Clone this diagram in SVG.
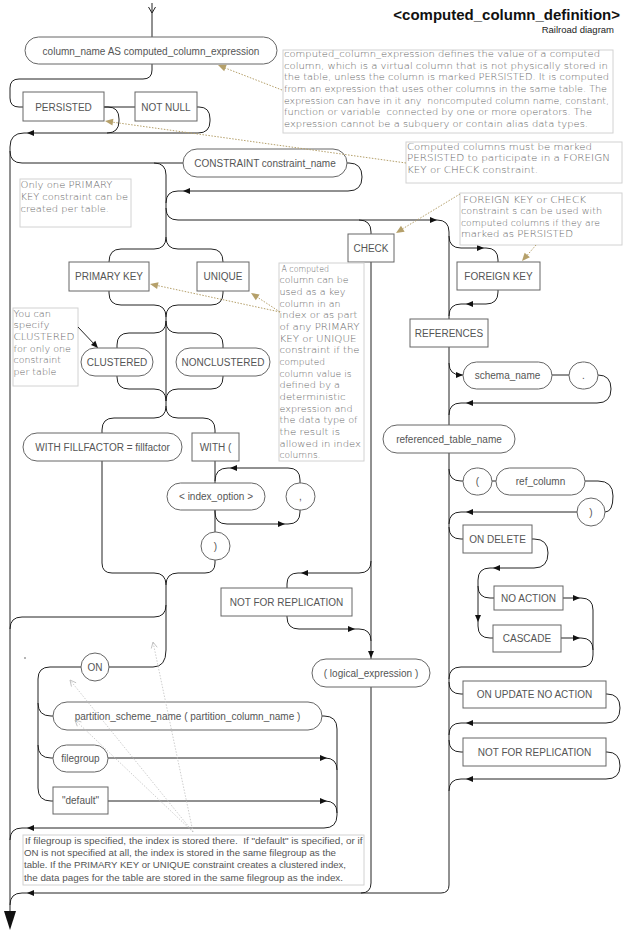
<svg xmlns="http://www.w3.org/2000/svg" width="626" height="933" viewBox="0 0 626 933">
<defs>
<style>
.c{fill:none;stroke:#222;stroke-width:1}
.n{fill:#fff;stroke:#666;stroke-width:1}
.t{font-family:"Liberation Sans",Arial,sans-serif;font-size:10px;fill:#555;text-anchor:middle}
.nb{fill:#fff;stroke:#d2d2d2;stroke-width:1}
.nt{font-family:"DejaVu Sans",sans-serif;font-size:9.5px;fill:#666;font-weight:200}
.ft{font-family:"Liberation Sans",Arial,sans-serif;font-size:9px;fill:#555}
.an{fill:none;stroke:#b5a06a;stroke-width:1;stroke-dasharray:1.5 1.5}
.ga{fill:none;stroke:#c2c2c2;stroke-width:0.8;stroke-dasharray:1.5 1.5}
</style>
<path id="ah" d="M0,0 L-7,-3 L-7,3 Z" fill="#111"/>
<path id="tah" d="M0,0 L-8,-3.5 L-8,3.5 Z" fill="#b5a06a"/>
<path id="gah" d="M-6,-3 L0,0 L-6,3" fill="none" stroke="#b8b8b8" stroke-width="0.8"/>
</defs>
<rect width="626" height="933" fill="#fff"/>

<g id="title">
<text x="620" y="20" font-family="Liberation Sans, Arial, sans-serif" font-size="15" font-weight="bold" fill="#111" text-anchor="end">&lt;computed_column_definition&gt;</text>
<text x="614" y="33" font-family="Liberation Sans, Arial, sans-serif" font-size="9.5" fill="#222" text-anchor="end">Railroad diagram</text>
</g>

<g id="connectors">
<line class="c" x1="152" y1="3" x2="152" y2="37"/>
<polyline class="c" points="148.5,7 152,13 155.5,7"/>
<path class="c" d="M152,64 V70 Q152,79 143,79 H19 Q10,79 10,88 V98 Q10,107 19,107 H23"/>
<path class="c" d="M104,107 H135"/>
<path class="c" d="M104,107 H108 Q119,107 119,119 V121 Q119,133 107,133"/>
<path class="c" d="M197,107 H199 Q210,107 210,119 V121 Q210,133 198,133 H24 Q10,133 10,147 V911"/>
<path class="c" d="M10,151 Q10,163 22,163 H183"/>
<path class="c" d="M154,163 Q166,163 166,175 V237"/>
<path class="c" d="M347,163 H349 Q362,163 362,177 Q362,191 348,191 H178 Q166,191 166,203"/>
<path class="c" d="M166,208 Q166,220 178,220 H437 Q449,220 449,232 V885 Q449,893 441,893 H22 Q10,893 10,905"/>
<path class="c" d="M359,220 Q371,220 371,232 V234"/>
<path class="c" d="M371,262 V883 Q371,893 361,893"/>
<!-- PK / UNIQUE -->
<path class="c" d="M166,237 Q166,249 154,249 H121 Q109,249 109,262"/>
<path class="c" d="M166,237 Q166,249 178,249 H211 Q223,249 223,262"/>
<path class="c" d="M109,291 V293 Q109,305 121,305 H154 Q166,305 166,317"/>
<path class="c" d="M223,291 V293 Q223,305 211,305 H178 Q166,305 166,317"/>
<path class="c" d="M166,317 V406"/>
<path class="c" d="M166,321 Q166,333 154,333 H129 Q117,333 117,345 V348"/>
<path class="c" d="M166,321 Q166,333 178,333 H211 Q223,333 223,345 V348"/>
<path class="c" d="M117,376 V377 Q117,389 129,389 H154 Q166,389 166,401"/>
<path class="c" d="M223,376 V377 Q223,389 211,389 H178 Q166,389 166,401"/>
<path class="c" d="M166,406 Q166,418 154,418 H114 Q102,418 102,430 V433"/>
<path class="c" d="M166,406 Q166,418 178,418 H203 Q215,418 215,430 V433"/>
<path class="c" d="M102,461 V563 Q102,573 112,573 H154 Q166,573 166,585"/>
<path class="c" d="M215,461 V483 M215,510 V532"/>
<path class="c" d="M300,483 V480 Q300,468 288,468 H228 Q215,468 215,481"/>
<path class="c" d="M215,510 V512 Q215,524 227,524 H288 Q300,524 300,512 V510"/>
<path class="c" d="M215,560 V563 Q215,573 205,573 H178 Q166,573 166,585"/>
<path class="c" d="M166,585 V650"/>
<path class="c" d="M166,605 Q166,617 154,617 H22 Q10,617 10,629"/>
<!-- ON / filegroup -->
<path class="c" d="M166,650 Q166,667 153,667 H109"/>
<path class="c" d="M81,667 H50 Q38,667 38,679 V788 Q38,801 51,801 H53"/>
<path class="c" d="M38,703 Q38,716 51,716 H53"/>
<path class="c" d="M38,745 Q38,758 51,758 H53"/>
<path class="c" d="M322,716 H324 Q337,716 337,729 V815 Q337,828 324,828 H22 Q10,828 10,840"/>
<path class="c" d="M108,758 H325 Q337,758 337,770"/>
<path class="c" d="M108,801 H325 Q337,801 337,813"/>
<!-- CHECK -->
<path class="c" d="M371,561 Q371,573 359,573 H298 Q287,573 287,584 V588"/>
<path class="c" d="M287,616 V617 Q287,629 299,629 H359 Q371,629 371,641"/>
<!-- FOREIGN KEY -->
<path class="c" d="M449,236 Q449,248 461,248 H486 Q498,248 498,260 V262"/>
<path class="c" d="M498,290 V292 Q498,304 486,304 H461 Q449,304 449,316"/>
<path class="c" d="M449,363 Q449,375 461,375 H463"/>
<path class="c" d="M552,375 H569"/>
<path class="c" d="M598,375 Q611,375 611,389 Q611,403 597,403 H461 Q449,403 449,415"/>
<path class="c" d="M449,469 Q449,481 461,481 H463 M492,481 H496"/>
<path class="c" d="M585,481 H598 Q613,481 613,496 Q613,512 605,512"/>
<path class="c" d="M577,512 H461 Q449,512 449,524"/>
<path class="c" d="M449,527 Q449,539 461,539 H463"/>
<path class="c" d="M532,539 H534 Q548,539 548,553 Q548,568 534,568 H490 Q478,568 478,580 V626 Q478,638 490,638 H493"/>
<path class="c" d="M478,586 Q478,598 490,598 H494"/>
<path class="c" d="M563,598 H581 Q593,598 593,610 V655 Q593,667 581,667 H461 Q449,667 449,679"/>
<path class="c" d="M561,638 H581 Q593,638 593,650"/>
<path class="c" d="M449,682 Q449,694 461,694 H463"/>
<path class="c" d="M606,694 H607 Q620,694 620,708 Q620,723 606,723 H461 Q449,723 449,735"/>
<path class="c" d="M449,740 Q449,752 461,752 H463"/>
<path class="c" d="M606,752 H607 Q620,752 620,766 Q620,779 606,779 H461 Q449,779 449,791"/>
<!-- arrowheads -->
<use href="#ah" transform="translate(27,133) rotate(180)"/>
<use href="#ah" transform="translate(183,191) rotate(180)"/>
<use href="#ah" transform="translate(437,220)"/>
<use href="#ah" transform="translate(484,248)"/>
<use href="#ah" transform="translate(466,304) rotate(180)"/>
<use href="#ah" transform="translate(463,375)"/>
<use href="#ah" transform="translate(466,403) rotate(180)"/>
<use href="#ah" transform="translate(466,512) rotate(180)"/>
<use href="#ah" transform="translate(493,568) rotate(180)"/>
<use href="#ah" transform="translate(478,622) rotate(90)"/>
<use href="#ah" transform="translate(580,598)"/>
<use href="#ah" transform="translate(580,638)"/>
<use href="#ah" transform="translate(466,723) rotate(180)"/>
<use href="#ah" transform="translate(466,779) rotate(180)"/>
<use href="#ah" transform="translate(301,573) rotate(180)"/>
<use href="#ah" transform="translate(355,629)"/>
<use href="#ah" transform="translate(371,658) rotate(90)"/>
<use href="#ah" transform="translate(230,468) rotate(180)"/>
<use href="#ah" transform="translate(285,524)"/>
<use href="#ah" transform="translate(327,758)"/>
<use href="#ah" transform="translate(327,801)"/>
<use href="#ah" transform="translate(27,828) rotate(180)"/>
<use href="#ah" transform="translate(27,893) rotate(180)"/>
<polygon points="4,911 16,911 10,930" fill="#111"/>
<circle cx="25" cy="658" r="0.7" fill="#333"/>
</g>

<g id="n-column" ><rect class="n" x="25" y="37" width="252" height="27" rx="13.5"/><text class="t" x="151" y="54.5">column_name AS computed_column_expression</text></g>
<g id="n-persisted"><rect class="n" x="23" y="92" width="81" height="29"/><text class="t" x="63.5" y="110.5">PERSISTED</text></g>
<g id="n-notnull"><rect class="n" x="135" y="92" width="62" height="29"/><text class="t" x="166" y="110.5">NOT NULL</text></g>
<g id="n-constraint"><rect class="n" x="183" y="149" width="164" height="28" rx="14"/><text class="t" x="265" y="166.5">CONSTRAINT constraint_name</text></g>
<g id="n-pk"><rect class="n" x="69" y="262" width="80" height="29"/><text class="t" x="109" y="280">PRIMARY KEY</text></g>
<g id="n-unique"><rect class="n" x="197" y="262" width="52" height="29"/><text class="t" x="223" y="280">UNIQUE</text></g>
<g id="n-clustered"><rect class="n" x="81" y="348" width="72" height="28" rx="14"/><text class="t" x="117" y="365.5">CLUSTERED</text></g>
<g id="n-nonclustered"><rect class="n" x="176" y="348" width="94" height="28" rx="14"/><text class="t" x="223" y="365.5">NONCLUSTERED</text></g>
<g id="n-fillfactor"><rect class="n" x="23" y="433" width="159" height="28" rx="14"/><text class="t" x="102.5" y="450.5">WITH FILLFACTOR = fillfactor</text></g>
<g id="n-with"><rect class="n" x="192" y="433" width="47" height="28"/><text class="t" x="215.5" y="450.5">WITH (</text></g>
<g id="n-indexopt"><rect class="n" x="167" y="483" width="98" height="27" rx="13.5"/><text class="t" x="216" y="500">&lt; index_option &gt;</text></g>
<g id="n-comma"><rect class="n" x="286" y="483" width="29" height="27" rx="13.5"/><text class="t" x="300.5" y="500">,</text></g>
<g id="n-rparen1"><rect class="n" x="201" y="532" width="29" height="28" rx="14"/><text class="t" x="215.5" y="549.5">)</text></g>
<g id="n-check"><rect class="n" x="348" y="234" width="46" height="28"/><text class="t" x="371" y="251.5">CHECK</text></g>
<g id="n-nfr1"><rect class="n" x="221" y="588" width="131" height="28"/><text class="t" x="286.5" y="605.5">NOT FOR REPLICATION</text></g>
<g id="n-logical"><rect class="n" x="312" y="659" width="118" height="28" rx="14"/><text class="t" x="371" y="676.5">( logical_expression )</text></g>
<g id="n-on"><rect class="n" x="81" y="653" width="28" height="28" rx="14"/><text class="t" x="95" y="670.5">ON</text></g>
<g id="n-partition"><rect class="n" x="53" y="702" width="269" height="28" rx="14"/><text class="t" x="187.5" y="719.5">partition_scheme_name ( partition_column_name )</text></g>
<g id="n-filegroup"><rect class="n" x="53" y="745" width="55" height="27" rx="13.5"/><text class="t" x="80.5" y="762">filegroup</text></g>
<g id="n-default"><rect class="n" x="53" y="787" width="55" height="27"/><text class="t" x="80.5" y="804">"default"</text></g>
<g id="n-fk"><rect class="n" x="457" y="262" width="83" height="28"/><text class="t" x="498.5" y="279.5">FOREIGN KEY</text></g>
<g id="n-references"><rect class="n" x="410" y="319" width="78" height="28"/><text class="t" x="449" y="336.5">REFERENCES</text></g>
<g id="n-schema"><rect class="n" x="463" y="362" width="89" height="27" rx="13.5"/><text class="t" x="507.5" y="379">schema_name</text></g>
<g id="n-dot"><rect class="n" x="569" y="362" width="29" height="27" rx="13.5"/><text class="t" x="583.5" y="379">.</text></g>
<g id="n-reftable"><rect class="n" x="383" y="425" width="132" height="28" rx="14"/><text class="t" x="449" y="442.5">referenced_table_name</text></g>
<g id="n-lparen"><rect class="n" x="463" y="468" width="29" height="27" rx="13.5"/><text class="t" x="477.5" y="485">(</text></g>
<g id="n-refcol"><rect class="n" x="496" y="468" width="89" height="27" rx="13.5"/><text class="t" x="540.5" y="485">ref_column</text></g>
<g id="n-rparen2"><rect class="n" x="577" y="498" width="28" height="28" rx="14"/><text class="t" x="591" y="515.5">)</text></g>
<g id="n-ondelete"><rect class="n" x="463" y="525" width="69" height="28"/><text class="t" x="497.5" y="542.5">ON DELETE</text></g>
<g id="n-noaction"><rect class="n" x="494" y="586" width="69" height="24"/><text class="t" x="528.5" y="601.5">NO ACTION</text></g>
<g id="n-cascade"><rect class="n" x="493" y="625" width="68" height="27"/><text class="t" x="527" y="642">CASCADE</text></g>
<g id="n-onupdate"><rect class="n" x="463" y="681" width="143" height="27"/><text class="t" x="534.5" y="698">ON UPDATE NO ACTION</text></g>
<g id="n-nfr2"><rect class="n" x="463" y="738" width="143" height="28"/><text class="t" x="534.5" y="755.5">NOT FOR REPLICATION</text></g>

<g id="note-expr">
<rect class="nb" x="283" y="50" width="330" height="83"/>
<text class="nt" xml:space="preserve"><tspan x="284" y="57" textLength="316" lengthAdjust="spacingAndGlyphs">computed_column_expression defines the value of a computed</tspan><tspan x="284" y="68.7" textLength="324" lengthAdjust="spacingAndGlyphs">column, which is a virtual column that is not physically stored in</tspan><tspan x="284" y="80.3" textLength="325" lengthAdjust="spacingAndGlyphs">the table, unless the column is marked PERSISTED. It is computed</tspan><tspan x="284" y="92" textLength="323" lengthAdjust="spacingAndGlyphs">from an expression that uses other columns in the same table. The</tspan><tspan x="284" y="103.7" textLength="325" lengthAdjust="spacingAndGlyphs">expression can have in it any  noncomputed column name, constant,</tspan><tspan x="284" y="115.3" textLength="308" lengthAdjust="spacingAndGlyphs">function or variable  connected by one or more operators. The</tspan><tspan x="284" y="127" textLength="304" lengthAdjust="spacingAndGlyphs">expression cannot be a subquery or contain alias data types.</tspan></text>
</g>
<g id="note-persisted">
<rect class="nb" x="406" y="142" width="216" height="41"/>
<text class="nt"><tspan x="407" y="149.5" textLength="185" lengthAdjust="spacingAndGlyphs">Computed columns must be marked</tspan><tspan x="407" y="161" textLength="203" lengthAdjust="spacingAndGlyphs">PERSISTED to participate in a FOREIGN</tspan><tspan x="407" y="172.5" textLength="131" lengthAdjust="spacingAndGlyphs">KEY or CHECK constraint.</tspan></text>
</g>
<g id="note-fk">
<rect class="nb" x="460" y="193" width="162" height="52"/>
<text class="nt"><tspan x="463" y="203" textLength="123" lengthAdjust="spacingAndGlyphs">FOREIGN KEY or CHECK</tspan><tspan x="461" y="214.3" textLength="141" lengthAdjust="spacingAndGlyphs">constraint s can be used with</tspan><tspan x="461" y="225.6" textLength="139" lengthAdjust="spacingAndGlyphs">computed columns if they are</tspan><tspan x="461" y="237" textLength="112" lengthAdjust="spacingAndGlyphs">marked as PERSISTED</tspan></text>
</g>
<g id="note-pk">
<rect class="nb" x="20" y="179" width="111" height="48"/>
<text class="nt"><tspan x="20.5" y="187.5" textLength="92" lengthAdjust="spacingAndGlyphs">Only one PRIMARY</tspan><tspan x="20.5" y="200" textLength="107.5" lengthAdjust="spacingAndGlyphs">KEY constraint can be</tspan><tspan x="20.5" y="212" textLength="88.5" lengthAdjust="spacingAndGlyphs">created per table.</tspan></text>
</g>
<g id="note-clustered">
<rect class="nb" x="13" y="308" width="65" height="78"/>
<text class="nt"><tspan x="13.5" y="316.5" textLength="37.5" lengthAdjust="spacingAndGlyphs">You can</tspan><tspan x="13.5" y="328" textLength="36" lengthAdjust="spacingAndGlyphs">specify</tspan><tspan x="13.5" y="339.8" textLength="61" lengthAdjust="spacingAndGlyphs">CLUSTERED</tspan><tspan x="13.5" y="351.5" textLength="57.5" lengthAdjust="spacingAndGlyphs">for only one</tspan><tspan x="13.5" y="363" textLength="47.5" lengthAdjust="spacingAndGlyphs">constraint</tspan><tspan x="13.5" y="374.7" textLength="43" lengthAdjust="spacingAndGlyphs">per table</tspan></text>
</g>
<g id="note-key">
<rect class="nb" x="279" y="263" width="85" height="198"/>
<text class="nt"><tspan x="281.5" y="271.5" textLength="47.5" lengthAdjust="spacingAndGlyphs">A computed</tspan><tspan x="279.5" y="283.2" textLength="69" lengthAdjust="spacingAndGlyphs">column can be</tspan><tspan x="279.5" y="294.8" textLength="66" lengthAdjust="spacingAndGlyphs">used as a key</tspan><tspan x="279.5" y="306.5" textLength="61" lengthAdjust="spacingAndGlyphs">column in an</tspan><tspan x="279.5" y="318.2" textLength="78" lengthAdjust="spacingAndGlyphs">index or as part</tspan><tspan x="279.5" y="329.8" textLength="80" lengthAdjust="spacingAndGlyphs">of any PRIMARY</tspan><tspan x="279.5" y="341.5" textLength="77" lengthAdjust="spacingAndGlyphs">KEY or UNIQUE</tspan><tspan x="279.5" y="353.2" textLength="80" lengthAdjust="spacingAndGlyphs">constraint if the</tspan><tspan x="279.5" y="364.8" textLength="45.5" lengthAdjust="spacingAndGlyphs">computed</tspan><tspan x="279.5" y="376.5" textLength="72" lengthAdjust="spacingAndGlyphs">column value is</tspan><tspan x="279.5" y="388.2" textLength="60.5" lengthAdjust="spacingAndGlyphs">defined by a</tspan><tspan x="279.5" y="399.8" textLength="66" lengthAdjust="spacingAndGlyphs">deterministic</tspan><tspan x="279.5" y="411.5" textLength="73" lengthAdjust="spacingAndGlyphs">expression and</tspan><tspan x="279.5" y="423.2" textLength="78" lengthAdjust="spacingAndGlyphs">the data type of</tspan><tspan x="279.5" y="434.8" textLength="60.5" lengthAdjust="spacingAndGlyphs">the result is</tspan><tspan x="279.5" y="446.5" textLength="81.5" lengthAdjust="spacingAndGlyphs">allowed in index</tspan><tspan x="279.5" y="458.2" textLength="41" lengthAdjust="spacingAndGlyphs">columns.</tspan></text>
</g>
<g id="note-filegroup">
<rect class="nb" x="23" y="835" width="341" height="50"/>
<text class="ft" xml:space="preserve"><tspan x="25" y="844" textLength="337.5" lengthAdjust="spacingAndGlyphs">If filegroup is specified, the index is stored there.  If "default" is specified, or if</tspan><tspan x="24" y="856" textLength="312" lengthAdjust="spacingAndGlyphs">ON is not specified at all, the index is stored in the same filegroup as the</tspan><tspan x="24" y="868.3" textLength="322" lengthAdjust="spacingAndGlyphs">table. If the PRIMARY KEY or UNIQUE constraint creates a clustered index,</tspan><tspan x="24" y="880.5" textLength="319" lengthAdjust="spacingAndGlyphs">the data pages for the table are stored in the same filegroup as the index.</tspan></text>
</g>

<g id="annotations">
<line class="an" x1="282" y1="90" x2="220" y2="66"/>
<use href="#tah" transform="translate(218,65) rotate(201.3)"/>
<line class="an" x1="406" y1="163" x2="108" y2="121.5"/>
<use href="#tah" transform="translate(105,121) rotate(187.9)"/>
<line class="an" x1="460" y1="194" x2="399" y2="231"/>
<use href="#tah" transform="translate(396,233) rotate(148.6)"/>
<line class="an" x1="536" y1="245" x2="524" y2="259"/>
<use href="#tah" transform="translate(522,261) rotate(131.2)"/>
<line class="an" x1="280" y1="312" x2="153" y2="284.6"/>
<use href="#tah" transform="translate(150,284) rotate(192.2)"/>
<line class="an" x1="280" y1="312" x2="254" y2="295"/>
<use href="#tah" transform="translate(251,293) rotate(213.2)"/>
<line x1="78" y1="327" x2="96" y2="346" stroke="#222" stroke-width="1"/>
<use href="#ah" transform="translate(98,348) rotate(46.4)"/>
<line class="ga" x1="193" y1="832" x2="70" y2="680"/>
<use href="#gah" transform="translate(70,680) rotate(231)"/>
<line class="ga" x1="193" y1="832" x2="75" y2="720"/>
<use href="#gah" transform="translate(75,720) rotate(223.5)"/>
<line class="ga" x1="193" y1="832" x2="153" y2="642"/>
<use href="#gah" transform="translate(153,642) rotate(258.1)"/>
</g>
</svg>
